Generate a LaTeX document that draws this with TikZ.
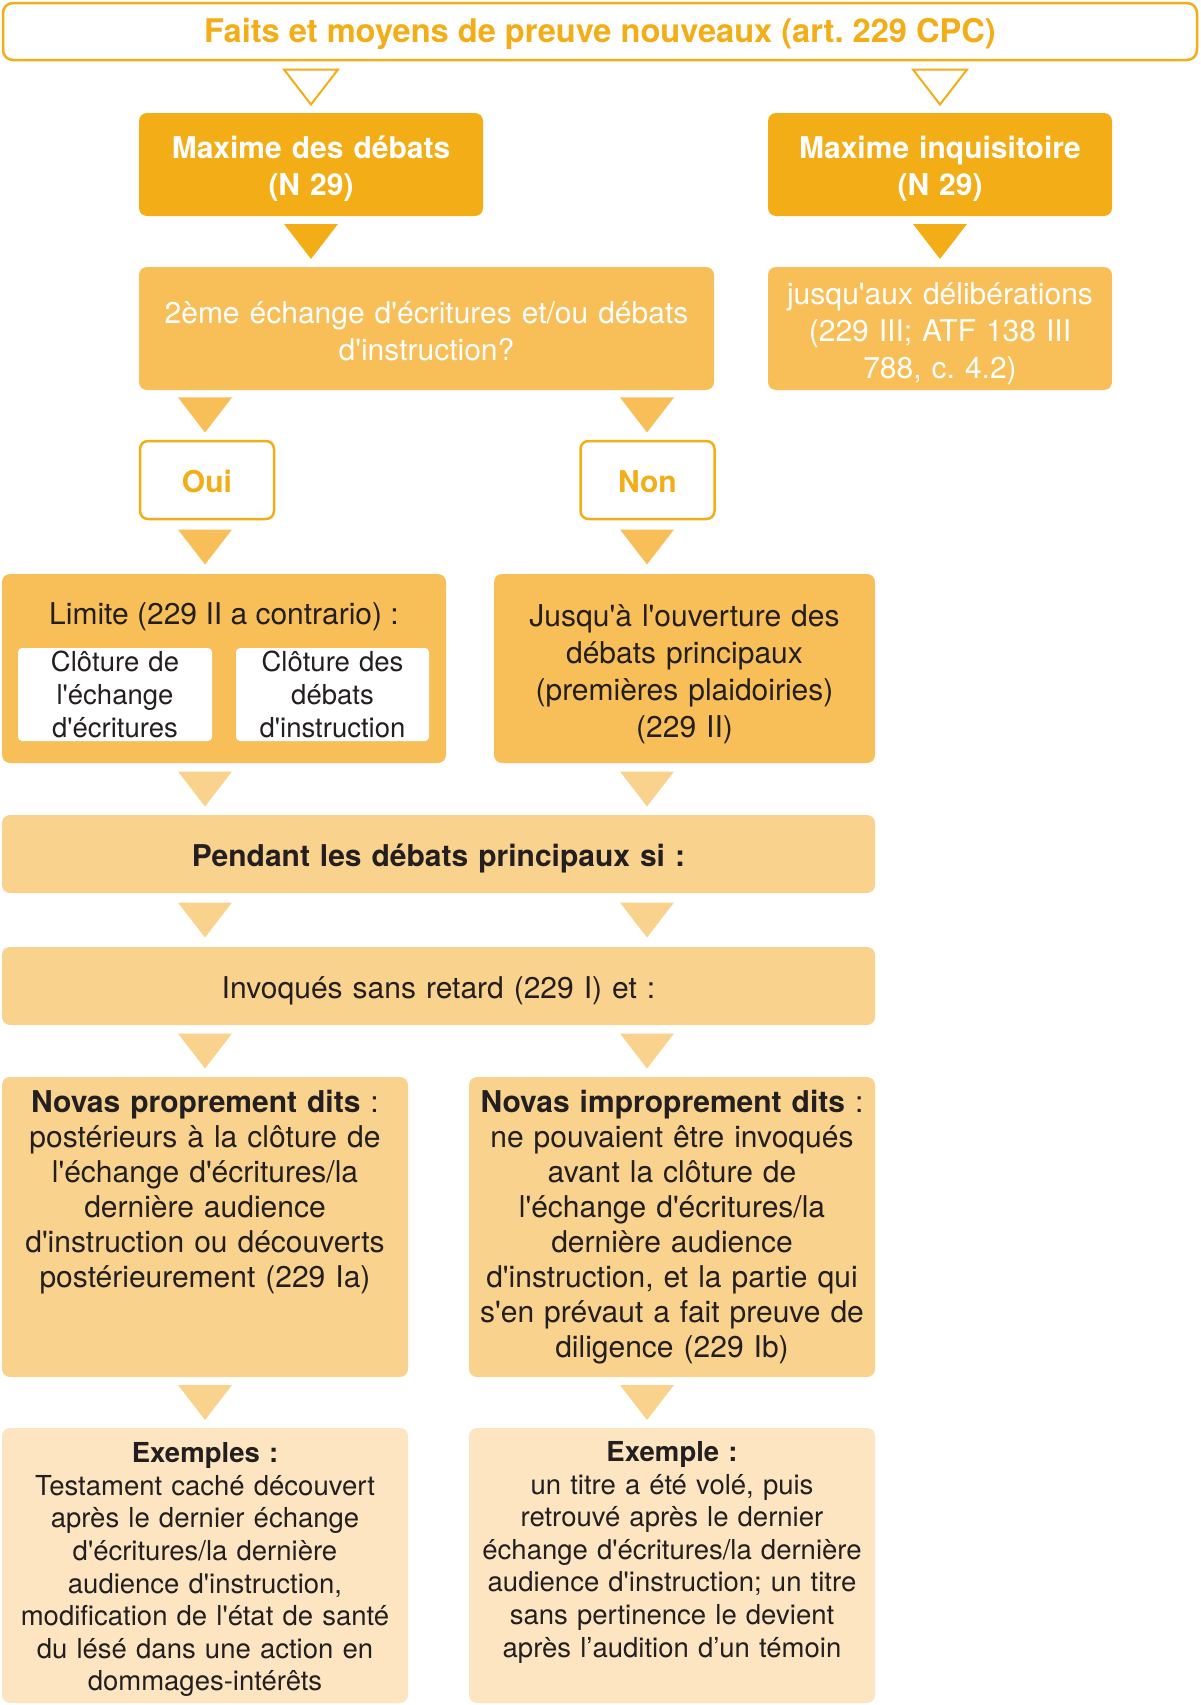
\documentclass[tikz,border=0pt]{standalone}
\usepackage{fontspec}
\newfontfamily\heros{TeX Gyre Heros}
\usetikzlibrary{calc}
\definecolor{darkorange}{RGB}{243,174,23}
\definecolor{midorange}{RGB}{248,191,88}
\definecolor{lightorange}{RGB}{249,210,142}
\definecolor{paleorange}{RGB}{253,229,194}
\definecolor{inkgray}{RGB}{35,31,32}
\newcommand\titlesize{\heros\frenchspacing\fontsize{32.6}{38}\selectfont}
\newcommand\bigsize{\heros\frenchspacing\fontsize{30}{37}\selectfont}
\newcommand\novasize{\heros\frenchspacing\fontsize{30}{35}\selectfont}
\newcommand\smallsize{\heros\frenchspacing\fontsize{27.5}{32.6}\selectfont}
\newcommand\tri[4]{\pic[#1] at ($(#2 |- #3.south)!.5!(#2 |- #4.north)$) {downtri};}

\begin{document}
\begin{tikzpicture}[
        x=1pt, y=-1pt,
        downtri/.pic={\path[pic actions] (-27,-17.5) -- (27,-17.5) -- (0,17.5) -- cycle;},
        outtri/.style={draw=darkorange, fill=white, line width=2pt},
        darktri/.style={fill=darkorange},
        midtri/.style={fill=midorange},
        lighttri/.style={fill=lightorange},
        textdrop/.style={execute at begin node={\rule{0pt}{#1}}},
        box/.style={rectangle, rounded corners=8pt, inner sep=0pt, align=center, text=inkgray},
        headbox/.style={box, fill=darkorange, text=white, font=\bigsize\bfseries, textdrop=31pt,
            minimum width=344pt, minimum height=103pt, text width=324pt},
        answer/.style={box, draw=darkorange, line width=2.5pt, fill=white, text=darkorange,
            font=\bigsize\bfseries, textdrop=26pt, minimum width=134pt, minimum height=78pt},
        inner/.style={box, fill=white, rounded corners=4pt, font=\smallsize,
            minimum height=93pt, text width=185pt, minimum width=193pt},
        widebox/.style={box, fill=lightorange, font=\bigsize, textdrop=31pt,
            minimum width=873pt, minimum height=78pt, text width=850pt},
        novas/.style={box, fill=lightorange, font=\novasize,
            minimum width=406pt, minimum height=300pt, text width=394pt},
        example/.style={box, fill=paleorange, font=\smallsize,
            minimum width=406pt, minimum height=275pt, text width=394pt}
    ]
    \useasboundingbox (0,0) rectangle (1200,1705);
    \coordinate (lcol) at (205,0);
    \coordinate (rcol) at (647,0);

    \node[box, draw=darkorange, line width=2.5pt, fill=white, rounded corners=10pt,
        text=darkorange, font=\titlesize\bfseries, textdrop=30pt, minimum width=1194pt, minimum height=57pt]
        (title) at (600,31.5) {Faits et moyens de preuve nouveaux (art. 229 CPC)};

    \node[headbox] (maxdeb) at (311,164.5) {Maxime des débats\\(N 29)};
    \node[headbox] (maxinq) at (940,164.5) {Maxime inquisitoire\\(N 29)};

    \node[box, fill=midorange, text=white, font=\bigsize, textdrop=26.5pt, minimum width=575pt,
        minimum height=123pt, text width=555pt]
        (echange) at (426.5,328.5) {2ème échange d'écritures et/ou débats\\d'instruction?};
    \node[box, fill=midorange, text=white, font=\bigsize, textdrop=32pt, minimum width=344pt,
        minimum height=123pt, text width=330pt]
        (jusqu) at (940,328.5) {jusqu'aux délibérations\\(229 III; ATF 138 III\\788, c. 4.2)};

    \node[answer] (oui) at (207,480) {Oui};
    \node[answer] (non) at (647.5,480) {Non};

    \node[box, fill=midorange, minimum width=444pt, minimum height=189pt] (limite) at (224,668.5) {};
    \node[box, font=\bigsize] (limhead) at (224,616.5) {Limite (229 II a contrario) :};
    \node[inner, minimum width=194pt] (clot1) at (115,694.5) {Clôture de\\l'échange\\d'écritures};
    \node[inner] (clot2) at (332.5,694.5) {Clôture des\\débats\\d'instruction};

    \node[box, fill=midorange, font=\bigsize, textdrop=33pt, minimum width=381pt, minimum height=189pt,
        text width=365pt]
        (ouvert) at (684.5,668.5) {Jusqu'à l'ouverture des\\débats principaux\\(premières plaidoiries)\\(229 II)};

    \node[widebox, font=\bigsize\bfseries] (pendant) at (438.5,854) {Pendant les débats principaux si :};
    \node[widebox] (invoq) at (438.5,986) {Invoqués sans retard (229 I) et :};

    \node[novas, execute at end node={\rule[-7pt]{0pt}{7pt}}] (propres) at (205,1227) {\textbf{Novas proprement dits} :\\postérieurs à la clôture de\\l'échange d'écritures/la\\dernière audience\\d'instruction ou découverts\\postérieurement (229 Ia)\\~\\~};
    \node[novas] (impropres) at (672,1227) {\textbf{Novas improprement dits} :\\ne pouvaient être invoqués\\avant la clôture de\\l'échange d'écritures/la\\dernière audience\\d'instruction, et la partie qui\\s'en prévaut a fait preuve de\\diligence (229 Ib)};

    \node[example, textdrop=28.6pt] (ex1) at (205,1565.5) {\textbf{Exemples :}\\Testament caché découvert\\après le dernier échange\\d'écritures/la dernière\\audience d'instruction,\\modification de l'état de santé\\du lésé dans une action en\\dommages-intérêts};
    \node[example] (ex2) at (672,1565.5) {\textbf{Exemple :}\\un titre a été volé, puis\\retrouvé après le dernier\\échange d'écritures/la dernière\\audience d'instruction; un titre\\sans pertinence le devient\\après l’audition d’un témoin\\~};

    \tri{outtri}{maxdeb}{title}{maxdeb}
    \tri{outtri}{maxinq}{title}{maxinq}
    \tri{darktri}{maxdeb}{maxdeb}{echange}
    \tri{darktri}{maxinq}{maxinq}{jusqu}
    \tri{midtri}{lcol}{echange}{oui}
    \tri{midtri}{rcol}{echange}{non}
    \tri{midtri}{lcol}{oui}{limite}
    \tri{midtri}{rcol}{non}{ouvert}
    \tri{lighttri}{lcol}{limite}{pendant}
    \tri{lighttri}{rcol}{ouvert}{pendant}
    \tri{lighttri}{lcol}{pendant}{invoq}
    \tri{lighttri}{rcol}{pendant}{invoq}
    \tri{lighttri}{lcol}{invoq}{propres}
    \tri{lighttri}{rcol}{invoq}{impropres}
    \tri{lighttri}{lcol}{propres}{ex1}
    \tri{lighttri}{rcol}{impropres}{ex2}
\end{tikzpicture}
\end{document}
